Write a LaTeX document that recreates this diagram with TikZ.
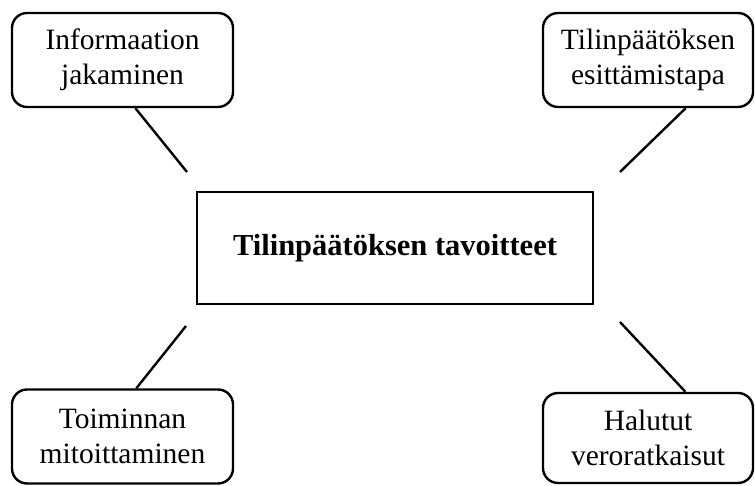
\documentclass[tikz,border=0pt]{standalone}
\usepackage{fontspec}
\setmainfont{Liberation Serif}

\begin{document}
\begin{tikzpicture}[x=1pt,y=1pt,-,line width=2.4pt,
    main node/.style={draw,rectangle,align=center,inner sep=0pt,font=\fontsize{29.5}{35}\selectfont},
    side node/.style={main node,rounded corners=15pt,minimum width=221pt,minimum height=94pt}]

            \useasboundingbox (0,0) rectangle (755,485);

            \node[main node, minimum width=396pt, minimum height=112pt, font=\fontsize{30.5}{36}\selectfont\bfseries] (0) at (395,237) {Tilinpäätöksen tavoitteet};
            \node[side node] (1) at (122.5,425) {Informaation\\jakaminen};
            \node[side node, minimum width=210pt] (2) at (648,425) {Tilinpäätöksen\\esittämistapa};
            \node[side node] (3) at (122.5,48.5) {Toiminnan\\mitoittaminen};
            \node[side node, minimum width=210pt, minimum height=90pt] (4) at (648,47) {Halutut\\veroratkaisut};

            \coordinate (e1) at (187,313);
            \coordinate (e2) at (620,313);
            \coordinate (e3) at (186,159);
            \coordinate (e4) at (620,163);

            \draw[-] (1.-75) to (e1);
            \draw[-] (2.-52) to (e2);
            \draw[-] (3.74) to (e3);
            \draw[-] (4.51) to (e4);

            ;
        \end{tikzpicture}
\end{document}
